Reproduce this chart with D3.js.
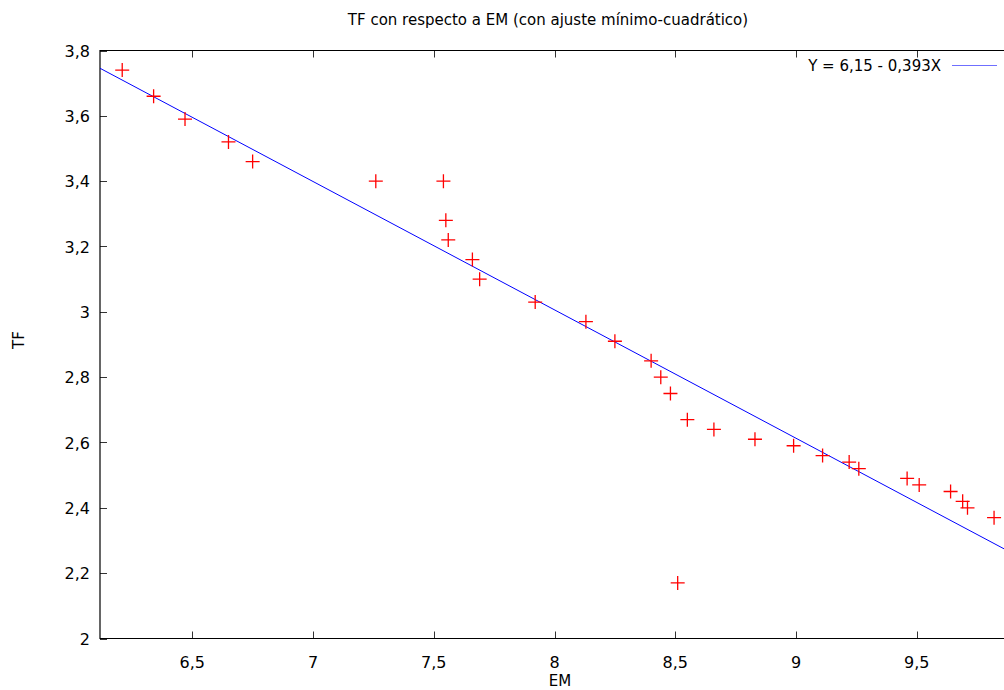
<!DOCTYPE html>
<html>
<head>
<meta charset="utf-8">
<script src="https://cdn.jsdelivr.net/npm/d3@7"></script>
<style>
  body { margin: 0; background: #fff; }
  text { font-family: "DejaVu Sans", Verdana, sans-serif; fill: #000; }
</style>
</head>
<body>
<svg id="chart" width="1004" height="690"></svg>
<script>
// EM (x) and TF (y)
var em = [6.21, 6.34, 6.47, 6.65, 6.75, 7.26, 7.54, 7.55, 7.56, 7.66, 7.69,
          7.92, 8.13, 8.25, 8.40, 8.44, 8.48, 8.55, 8.66, 8.83, 8.99, 9.11,
          9.22, 9.26, 9.46, 9.51, 9.64, 9.69, 9.71, 9.82, 8.51];
var tf = [3.74, 3.66, 3.59, 3.52, 3.46, 3.40, 3.40, 3.28, 3.22, 3.16, 3.10,
          3.03, 2.97, 2.91, 2.85, 2.80, 2.75, 2.67, 2.64, 2.61, 2.59, 2.56,
          2.54, 2.52, 2.49, 2.47, 2.45, 2.42, 2.40, 2.37, 2.17];

// least squares fit shown in the legend
var fitIntercept = 6.15;
var fitSlope = -0.393;

var xTicks = [6.5, 7, 7.5, 8, 8.5, 9, 9.5];
var yTicks = [2, 2.2, 2.4, 2.6, 2.8, 3, 3.2, 3.4, 3.6, 3.8];

var title = 'TF con respecto a EM (con ajuste mínimo-cuadrático)';
var legendLabel = 'Y = 6,15 - 0,393X';

var svg = d3.select('#chart');
// plot box; the right edge sits just outside the picture
var plotL = 100, plotR = 1010, plotT = 50.5, plotB = 638.5;

var x = d3.scaleLinear().domain([6.118, 9.886]).range([plotL, plotR]);
var y = d3.scaleLinear().domain([2, 3.8]).range([plotB, plotT]);

var es = d3.formatLocale({ decimal: ',', thousands: '.', grouping: [3], currency: ['', ''] });
var fmt = function(d) { return es.format('~g')(d); };

svg.append('clipPath').attr('id', 'plot-clip')
  .append('rect')
  .attr('x', plotL).attr('y', plotT)
  .attr('width', plotR - plotL).attr('height', plotB - plotT);

// ticks (inward, mirrored on top)
var tickLen = 7;
svg.append('g')
  .selectAll('line')
  .data(xTicks)
  .join('line')
  .attr('x1', d => Math.round(x(d)) + 0.5).attr('x2', d => Math.round(x(d)) + 0.5)
  .attr('y1', plotB).attr('y2', plotB - tickLen)
  .attr('stroke', '#333');
svg.append('g')
  .selectAll('line')
  .data(xTicks)
  .join('line')
  .attr('x1', d => Math.round(x(d)) + 0.5).attr('x2', d => Math.round(x(d)) + 0.5)
  .attr('y1', plotT).attr('y2', plotT + tickLen)
  .attr('stroke', '#333');
svg.append('g')
  .selectAll('line')
  .data(yTicks)
  .join('line')
  .attr('x1', plotL).attr('x2', plotL + tickLen)
  .attr('y1', d => Math.round(y(d)) + 0.5).attr('y2', d => Math.round(y(d)) + 0.5)
  .attr('stroke', '#333');

// tick labels
svg.append('g')
  .selectAll('text')
  .data(xTicks)
  .join('text')
  .attr('x', d => x(d))
  .attr('y', 668)
  .attr('text-anchor', 'middle')
  .attr('font-size', 16)
  .text(fmt);
svg.append('g')
  .selectAll('text')
  .data(yTicks)
  .join('text')
  .attr('x', 90)
  .attr('y', d => y(d) + 6)
  .attr('text-anchor', 'end')
  .attr('font-size', 16)
  .text(fmt);

// border
svg.append('path')
  .attr('d', `M${plotR},${plotT}H${plotL}V${plotB}H${plotR}`)
  .attr('fill', 'none')
  .attr('stroke', '#000')
  .attr('stroke-width', 1.2);

// fit line
var fitLine = d3.line()
  .x(d => x(d))
  .y(d => y(fitIntercept + fitSlope * d));
svg.append('path')
  .datum(x.domain())
  .attr('d', fitLine)
  .attr('clip-path', 'url(#plot-clip)')
  .attr('fill', 'none')
  .attr('stroke', '#0000ff')
  .attr('stroke-width', 1);

// data points as "+" marks
var arm = 7;
var pts = svg.append('g').attr('stroke', '#ff0000').attr('stroke-width', 1.3);
pts.selectAll('path')
  .data(d3.zip(em, tf))
  .join('path')
  .attr('d', d => {
    var px = x(d[0]), py = y(d[1]);
    return `M${px - arm},${py}H${px + arm}M${px},${py - arm}V${py + arm}`;
  });

// legend
svg.append('text')
  .attr('x', 941).attr('y', 71)
  .attr('text-anchor', 'end')
  .attr('font-size', 15)
  .text(legendLabel);
svg.append('line')
  .attr('x1', 952).attr('x2', 997)
  .attr('y1', 65.5).attr('y2', 65.5)
  .attr('stroke', '#6f6fff')
  .attr('stroke-width', 1.2);

// titles
svg.append('text')
  .attr('x', 548).attr('y', 25)
  .attr('text-anchor', 'middle')
  .attr('font-size', 15)
  .text(title);
svg.append('text')
  .attr('x', 560).attr('y', 686)
  .attr('text-anchor', 'middle')
  .attr('font-size', 15)
  .text('EM');
svg.append('text')
  .attr('transform', 'translate(24,340) rotate(-90)')
  .attr('text-anchor', 'middle')
  .attr('font-size', 15)
  .text('TF');
</script>
</body>
</html>
